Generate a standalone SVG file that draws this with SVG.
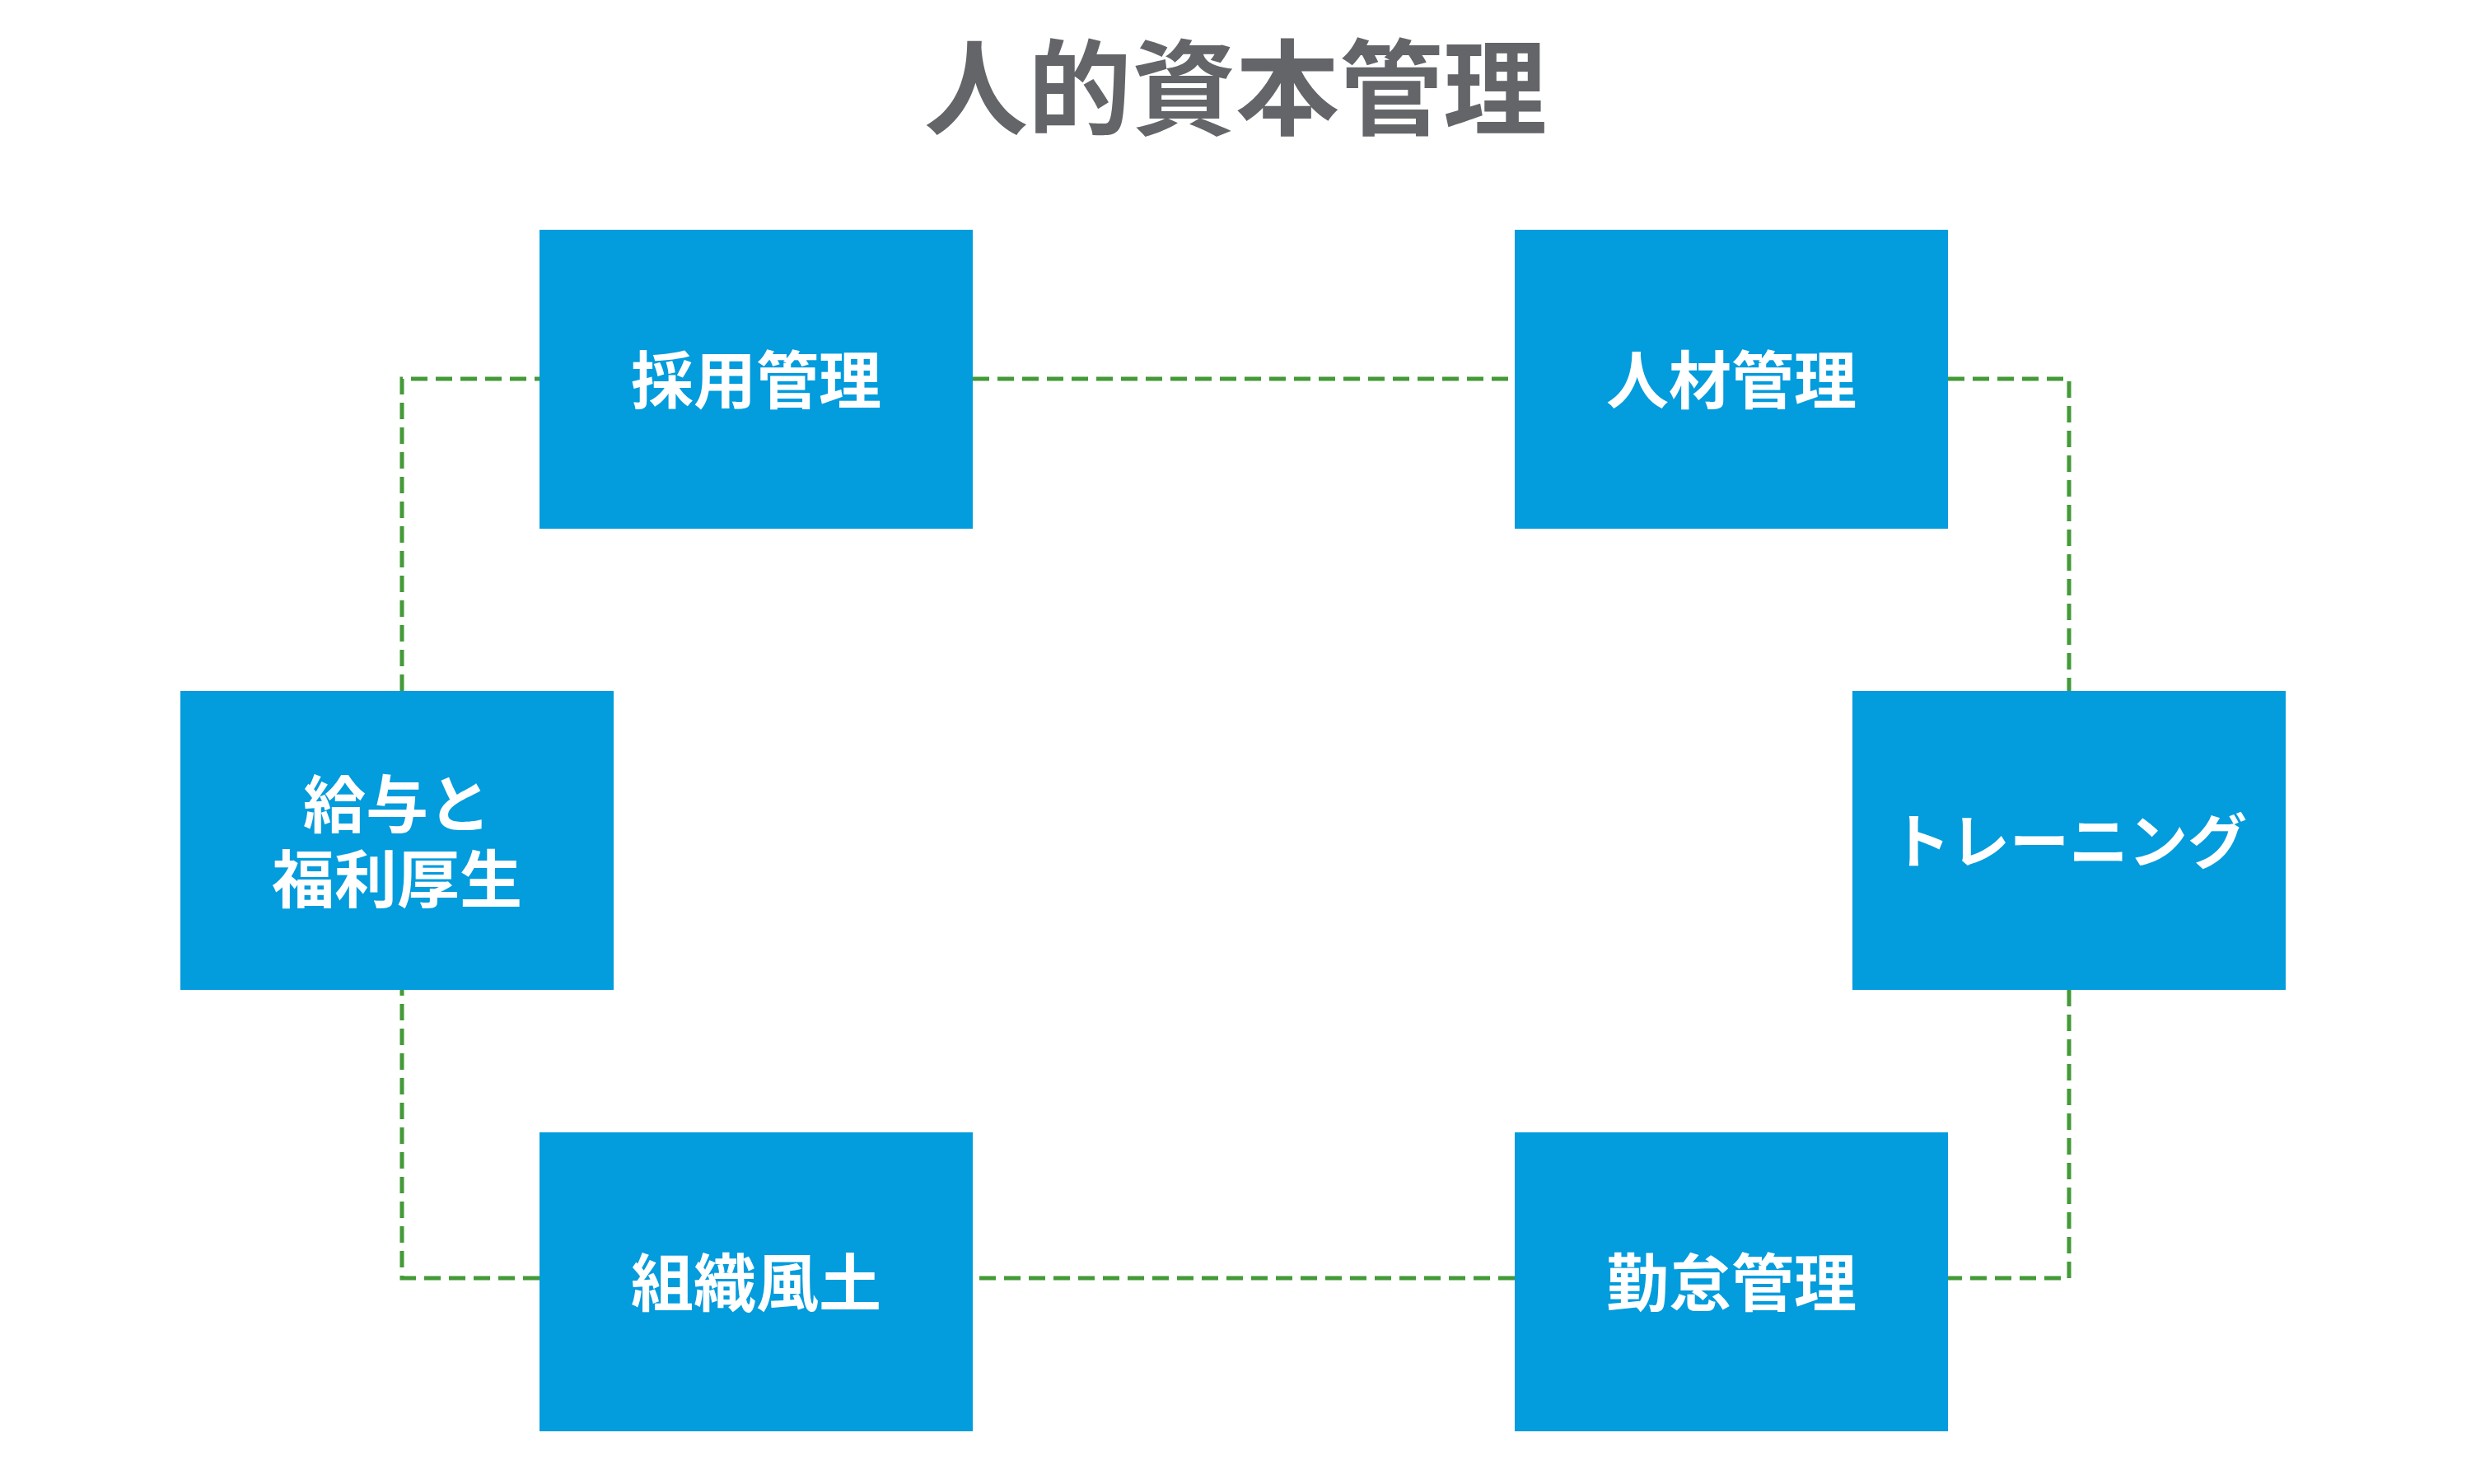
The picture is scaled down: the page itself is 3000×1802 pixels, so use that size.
<svg xmlns="http://www.w3.org/2000/svg" width="3000" height="1802" viewBox="0 0 3000 1802">
  <style>
    .box { fill: #039CDD; }
    .lbl { fill: #FFFFFF; font-family: "Noto Sans CJK JP", "Noto Sans CJK SC", sans-serif; font-weight: 700; font-size: 76px; text-anchor: middle; }
    .title { fill: #636569; font-family: "Noto Sans CJK JP", "Noto Sans CJK SC", sans-serif; font-weight: 700; font-size: 126px; text-anchor: middle; }
    .conn { fill: none; stroke: #439A37; stroke-width: 5; stroke-dasharray: 20 10; }
  </style>
  <rect x="0" y="0" width="3000" height="1802" fill="#FFFFFF"/>
  <text class="title" x="1500" y="154">人的資本管理</text>
  <g id="connectors">
    <path class="conn" d="M1181,460 L1839,460"/>
    <path class="conn" d="M2365,460 L2512,460 L2512,839"/>
    <path class="conn" d="M2512,1202 L2512,1552 L2365,1552"/>
    <path class="conn" d="M1839,1552 L1181,1552"/>
    <path class="conn" d="M655,1552 L488,1552 L488,1202"/>
    <path class="conn" d="M488,839 L488,460 L655,460"/>
  </g>
  <g id="node-saiyou">
    <rect class="box" x="655" y="279" width="526" height="363"/>
    <text class="lbl" x="918" y="490">採用管理</text>
  </g>
  <g id="node-jinzai">
    <rect class="box" x="1839" y="279" width="526" height="363"/>
    <text class="lbl" x="2102" y="490">人材管理</text>
  </g>
  <g id="node-training">
    <rect class="box" x="2249" y="839" width="526" height="363"/>
    <text class="lbl" x="2512" y="1048" style="font-size:72px">トレーニング</text>
  </g>
  <g id="node-kintai">
    <rect class="box" x="1839" y="1375" width="526" height="363"/>
    <text class="lbl" x="2102" y="1586">勤怠管理</text>
  </g>
  <g id="node-soshiki">
    <rect class="box" x="655" y="1375" width="526" height="363"/>
    <text class="lbl" x="918" y="1586">組織風土</text>
  </g>
  <g id="node-kyuyo">
    <rect class="box" x="219" y="839" width="526" height="363"/>
    <text class="lbl"><tspan x="482" y="1005">給与と</tspan><tspan x="482" y="1096">福利厚生</tspan></text>
  </g>
</svg>
